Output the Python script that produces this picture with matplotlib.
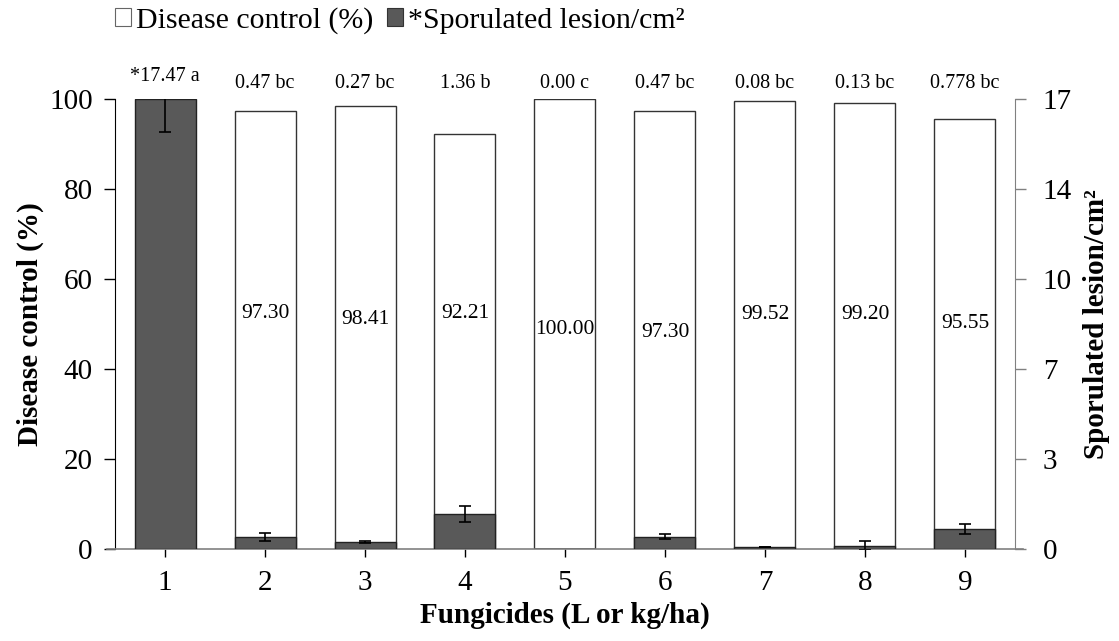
import matplotlib
matplotlib.use("Agg")
import matplotlib.pyplot as plt
import numpy as np
from matplotlib.patches import Patch
from matplotlib.lines import Line2D

plt.rcParams['font.family'] = ['Liberation Serif', 'DejaVu Serif']

treatments = ['1', '2', '3', '4', '5', '6', '7', '8', '9']
disease_control = [0.0, 97.30, 98.41, 92.21, 100.00, 97.30, 99.52, 99.20, 95.55]
lesions = [17.47, 0.47, 0.27, 1.36, 0.00, 0.47, 0.08, 0.13, 0.778]
lesion_err = [1.28, 0.14, 0.03, 0.30, 0.0, 0.10, 0.01, 0.18, 0.19]
top_labels = ['*17.47 a', '0.47 bc', '0.27 bc', '1.36 b', '0.00 c', '0.47 bc', '0.08 bc', '0.13 bc', '0.778 bc']
top_label_y = [105.1, 103.4, 103.4, 103.4, 103.4, 103.4, 103.4, 103.4, 103.4]
inner_labels = ['', '97.30', '98.41', '92.21', '100.00', '97.30', '99.52', '99.20', '95.55']
inner_label_y = [0, 52.4, 50.9, 52.4, 48.7, 48.0, 52.2, 52.2, 50.2]
right_max = 17.47

fig = plt.figure(figsize=(11.19, 6.41), dpi=100)
ax = fig.add_axes([0.1028, 0.1435, 0.907 - 0.1028, 0.8456 - 0.1435])
ax2 = ax.twinx()

x = np.arange(1, len(treatments) + 1)
w = 0.61
ax.bar(x, disease_control, width=w, color='white', edgecolor='#333333', linewidth=1.0, zorder=2)
ax2.bar(x, lesions, width=w, color='#595959', edgecolor='#222222', linewidth=1.0, zorder=2)
err = np.array(lesion_err)
has_err = err > 0
ax2.errorbar(x[has_err], np.array(lesions)[has_err], yerr=err[has_err], fmt='none', ecolor='black',
             elinewidth=1.2, capsize=4, capthick=1.2, zorder=3)

ax.set_xlim(0.5, 9.5)
ax.set_ylim(0, 100)
ax2.set_ylim(0, right_max)

ax.set_xticks(x)
ax.set_xticklabels(treatments)
ax.set_yticks([0, 20, 40, 60, 80, 100])
r_ticks = np.linspace(0, right_max, 6)
ax2.set_yticks(r_ticks)
ax2.set_yticklabels(['%.0f' % v for v in r_ticks])

for a in (ax, ax2):
    a.spines['top'].set_visible(False)
    a.spines['bottom'].set_visible(False)
    a.tick_params(labelsize=21, direction='out')
ax.spines['right'].set_visible(False)
ax2.spines['left'].set_visible(False)
ax.spines['left'].set_color('black')
ax2.spines['right'].set_color('#808080')
ax.tick_params(axis='y', length=8, width=1, colors='black', pad=8)
ax.tick_params(axis='x', length=6, width=1, pad=9)
ax2.tick_params(axis='y', length=8, width=1, color='#808080', labelcolor='black', pad=12)

# bottom axis line extending past spines
ax.add_line(Line2D([-0.009, 1.009], [0, 0], transform=ax.transAxes, color='#808080',
                   linewidth=1.2, clip_on=False, zorder=5))

for xi, lab, yy in zip(x, top_labels, top_label_y):
    ax.text(xi, yy, lab, ha='center', va='center', fontsize=14.5, clip_on=False)
for xi, lab, yy in zip(x, inner_labels, inner_label_y):
    if lab:
        ax2.text(xi, yy / 100 * right_max, lab, ha='center', va='center', fontsize=15.5, zorder=6)

ax.set_ylabel('Disease control (%)', fontsize=21, fontweight='bold')
ax.yaxis.set_label_coords(-0.079, 0.5)
ax2.set_ylabel('Sporulated lesion/cm²', fontsize=21, fontweight='bold')
ax2.yaxis.set_label_coords(1.076, 0.5)
ax.set_xlabel('Fungicides (L or kg/ha)', fontsize=21, fontweight='bold', labelpad=4)

handles = [Patch(facecolor='white', edgecolor='#666666', linewidth=0.8),
           Patch(facecolor='#595959', edgecolor='#333333', linewidth=0.8)]
fig.legend(handles, ['Disease control (%)', '*Sporulated lesion/cm²'], loc='center',
           bbox_to_anchor=(0.357, 0.968), ncol=2, frameon=False, fontsize=21.5,
           handlelength=0.55, handleheight=0.55, handletextpad=0.15, columnspacing=0.45)

fig.savefig('out.png', dpi=100)
